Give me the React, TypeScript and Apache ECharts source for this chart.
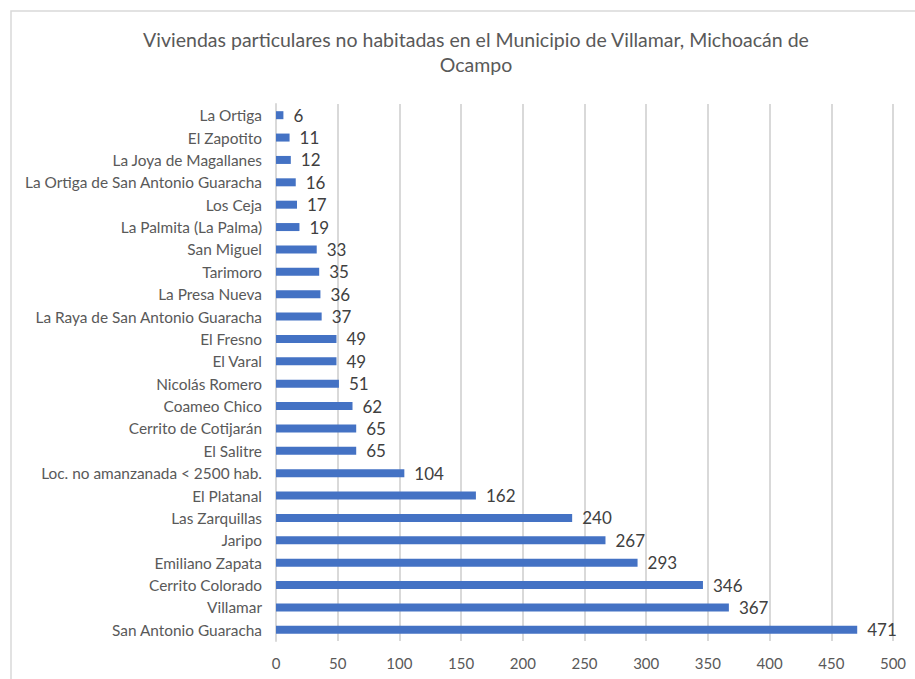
import React, { useEffect, useRef } from "react";
import * as echarts from "echarts";

const categories = [
  "La Ortiga",
  "El Zapotito",
  "La Joya de Magallanes",
  "La Ortiga de San Antonio Guaracha",
  "Los Ceja",
  "La Palmita (La Palma)",
  "San Miguel",
  "Tarimoro",
  "La Presa Nueva",
  "La Raya de San Antonio Guaracha",
  "El Fresno",
  "El Varal",
  "Nicolás Romero",
  "Coameo Chico",
  "Cerrito de Cotijarán",
  "El Salitre",
  "Loc. no amanzanada < 2500 hab.",
  "El Platanal",
  "Las Zarquillas",
  "Jaripo",
  "Emiliano Zapata",
  "Cerrito Colorado",
  "Villamar",
  "San Antonio Guaracha",
];

const values = [6, 11, 12, 16, 17, 19, 33, 35, 36, 37, 49, 49, 51, 62, 65, 65, 104, 162, 240, 267, 293, 346, 367, 471];

const titleText = "Viviendas particulares no habitadas en el Municipio de Villamar, Michoacán de\nOcampo";

export default function App() {
  const ref = useRef<HTMLDivElement>(null);
  useEffect(() => {
    if (!ref.current) return;
    const chart = echarts.init(ref.current, null, { renderer: "svg" });
    const font = "Lato, 'Open Sans', sans-serif";
    chart.setOption({
      animation: false,
      backgroundColor: "#ffffff",
      textStyle: { fontFamily: font },
      title: {
        text: titleText,
        left: 471,
        textAlign: "center",
        top: 22,
        textStyle: {
          fontFamily: font,
          fontSize: 19.5,
          fontWeight: "normal",
          color: "#595959",
          lineHeight: 25,
        },
      },
      graphic: [
        {
          type: "rect",
          shape: { x: 11, y: 11, width: 1000, height: 1000 },
          style: { fill: "none", stroke: "#d9d9d9", lineWidth: 1.5 },
          silent: true,
        },
      ],
      grid: { left: 276, right: 22, top: 104, bottom: 38, containLabel: false },
      xAxis: {
        type: "value",
        min: 0,
        max: 500,
        interval: 50,
        axisLine: { show: false },
        axisTick: { show: false },
        splitLine: { show: true, lineStyle: { color: "#d9d9d9", width: 2 } },
        axisLabel: { fontFamily: font, fontSize: 15, color: "#595959", margin: 14 },
      },
      yAxis: {
        type: "category",
        data: categories,
        inverse: true,
        axisLine: { show: true, lineStyle: { color: "#d9d9d9", width: 2 } },
        axisTick: { show: false },
        axisLabel: { fontFamily: font, fontSize: 15.4, color: "#595959", margin: 14 },
      },
      series: [
        {
          type: "bar",
          data: values,
          barWidth: 8,
          itemStyle: { color: "#4472C4" },
          label: {
            show: true,
            position: "right",
            distance: 10,
            fontFamily: font,
            fontSize: 17,
            color: "#404040",
          },
        },
      ],
    });
    return () => chart.dispose();
  }, []);
  return (
    <div
      ref={ref}
      style={{ position: "fixed", left: 0, top: 0, width: 915, height: 679 }}
    />
  );
}
